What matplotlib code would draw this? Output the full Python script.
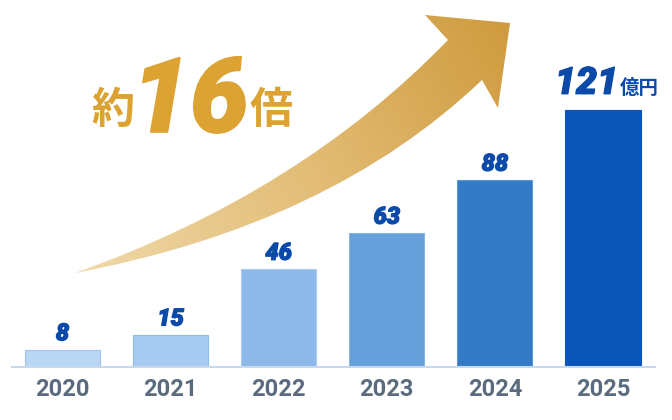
import numpy as np
import matplotlib
matplotlib.use("Agg")
import matplotlib.pyplot as plt
import matplotlib.patheffects as pe
from matplotlib.path import Path
from matplotlib.patches import PathPatch
from matplotlib.colors import LinearSegmentedColormap

# ---- data ----
years = ["2020", "2021", "2022", "2023", "2024", "2025"]
values = [8, 15, 46, 63, 88, 121]
value_labels = ["8", "15", "46", "63", "88", "121"]
unit_label = "億円"
headline_prefix = "約"
headline_number = "16"
headline_suffix = "倍"

# ---- style ----
bar_colors = ["#b9d6f3", "#a6cbf0", "#8cb9e9", "#66a0da", "#357ac7", "#0a55b8"]
bar_edges = ["#9fc3ec", "#8fbbe8", "#a8ccf1", "#86b5e6", "#5a95d6", "#0a55b8"]
label_color = "#0b4aa8"
year_color = "#5a6b7f"
gold = "#dca232"

W, H = 672, 420
fig = plt.figure(figsize=(W / 100, H / 100), dpi=100)
fig.patch.set_facecolor("white")

# ---- decorative arrow layer (pixel coordinates) ----
deco = fig.add_axes([0, 0, 1, 1], zorder=0)
deco.set_xlim(0, W)
deco.set_ylim(H, 0)
deco.axis("off")

verts = [
    (75, 273), (300, 193), (448, 40),   # upper edge (quadratic)
    (425, 15), (510, 23), (498, 108), (482, 80),  # head
    (330, 225), (75, 273),              # lower edge (quadratic)
    (75, 273),
]
codes = [
    Path.MOVETO, Path.CURVE3, Path.CURVE3,
    Path.LINETO, Path.LINETO, Path.LINETO, Path.LINETO,
    Path.CURVE3, Path.CURVE3,
    Path.CLOSEPOLY,
]
arrow_path = Path(verts, codes)
patch = PathPatch(arrow_path, facecolor="none", edgecolor="none")
deco.add_patch(patch)

# gradient along tail->head direction
xx, yy = np.meshgrid(np.linspace(0, W, 300), np.linspace(0, H, 200))
d = np.array([510 - 75, 23 - 273], dtype=float)
d /= np.linalg.norm(d)
proj = ((xx - 75) * d[0] + (yy - 273) * d[1])
proj = (proj - 0) / 500.0
proj = np.clip(proj, 0, 1)
cmap = LinearSegmentedColormap.from_list("g", ["#f0d9a9", "#e3bd77", "#cf9b3e"])
im = deco.imshow(proj, extent=(0, W, H, 0), cmap=cmap, vmin=0, vmax=1,
                 aspect="auto", interpolation="bilinear", zorder=1)
im.set_clip_path(patch)

cjk = ["Noto Sans CJK JP", "DejaVu Sans"]
deco.text(113, 110, headline_prefix, fontsize=31, fontweight="bold", family=cjk,
          color=gold, ha="center", va="center", zorder=3)
deco.text(190, 132, headline_number, fontsize=75, fontweight="black", style="italic",
          family=["Roboto", "DejaVu Sans"], color=gold, ha="center", va="baseline", zorder=3,
          path_effects=[pe.withStroke(linewidth=1.2, foreground=gold)])
deco.text(271, 110, headline_suffix, fontsize=31, fontweight="bold", family=cjk,
          color=gold, ha="center", va="center", zorder=3)

# ---- bar chart ----
ax = fig.add_axes([12 / W, 53 / H, (655 - 12) / W, 367 / H], zorder=1)
ax.patch.set_alpha(0)
x = np.arange(len(years))
ax.bar(x, values, width=0.694, color=bar_colors, edgecolor=bar_edges, linewidth=0.8)
ax.set_xlim(-0.467, len(years) - 1 + 0.481)
ax.set_ylim(0, 367 / 2.12)

for s in ["top", "right", "left"]:
    ax.spines[s].set_visible(False)
ax.spines["bottom"].set_color("#c9d9ec")
ax.spines["bottom"].set_linewidth(1.5)
ax.set_yticks([])
ax.set_xticks(x)
ax.set_xticklabels(years, fontsize=17, fontweight="bold", color=year_color,
                   family=["Roboto", "DejaVu Sans"])
ax.tick_params(axis="x", length=0, pad=8)

num_font = ["Roboto", "DejaVu Sans"]
stroke = [pe.withStroke(linewidth=0.9, foreground=label_color)]
last = len(values) - 1
for i, (v, lab) in enumerate(zip(values, value_labels)):
    if i == last:
        ax.annotate(lab, (i, v), xytext=(11, 12), textcoords="offset points",
                    ha="right", va="baseline", fontsize=27, fontweight="black",
                    style="italic", color=label_color, family=num_font,
                    path_effects=stroke)
        ax.annotate(unit_label, (i, v), xytext=(12, 12), textcoords="offset points",
                    ha="left", va="baseline", fontsize=14, fontweight="bold",
                    color=label_color, family=cjk)
    else:
        ax.annotate(lab, (i, v), xytext=(0, 7), textcoords="offset points",
                    ha="center", va="baseline", fontsize=17, fontweight="black",
                    style="italic", color=label_color, family=num_font,
                    path_effects=stroke)

fig.savefig("out.png", dpi=100, facecolor="white")
